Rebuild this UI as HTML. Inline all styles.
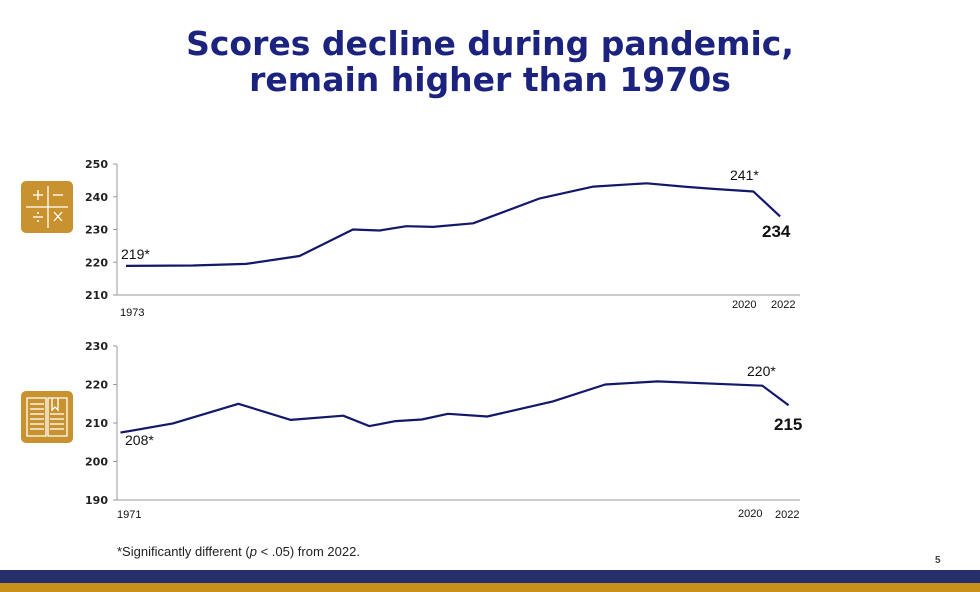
<!DOCTYPE html>
<html><head><meta charset="utf-8"><style>
body{margin:0;width:980px;height:592px;overflow:hidden;background:#fff;font-family:"Liberation Sans",sans-serif;position:relative}
.title{position:absolute;left:0;top:26px;width:980px;text-align:center;color:#1c237e;font-weight:bold;font-size:33px;line-height:36px;font-family:"DejaVu Sans",sans-serif}
svg{position:absolute;left:0;top:0}
.note{position:absolute;left:117px;top:544px;font-size:13px;color:#222}
.pg{position:absolute;left:935px;top:555px;font-size:10px;font-weight:bold;color:#444}
.b1{position:absolute;left:0;top:570px;width:980px;height:13px;background:#262e6c}
.b2{position:absolute;left:0;top:583px;width:980px;height:9px;background:#c8921a}
</style></head><body>
<div class="title">Scores decline during pandemic,<br>remain higher than 1970s</div>
<svg id="chart" width="980" height="592">
 <g>
  <rect x="21" y="181" width="52" height="52" rx="5" fill="#c8932e"/>
  <g stroke="#fff" stroke-width="1.3" fill="none">
   <line x1="48" y1="186" x2="48" y2="228"/><line x1="26" y1="207" x2="68" y2="207"/>
   <line x1="33" y1="195" x2="43" y2="195"/><line x1="38" y1="190" x2="38" y2="200"/>
   <line x1="53" y1="195" x2="63" y2="195"/>
   <line x1="33" y1="217" x2="43" y2="217"/><line x1="54" y1="212" x2="62" y2="221"/><line x1="62" y1="212" x2="54" y2="221"/>
  </g><circle cx="38" cy="213" r="1" fill="#fff"/><circle cx="38" cy="221" r="1" fill="#fff"/>
 </g>
 <g>
  <rect x="21" y="391" width="52" height="52" rx="5" fill="#c8932e"/>
  <g stroke="#fff" stroke-width="1.3" fill="none">
   <path d="M27 398 H46 V436 H27 Z M48 398 H67 V436 H48 Z"/>
   <path d="M52 398 V410 L55 407 L58 410 V398"/>
   <line x1="30" y1="404" x2="44" y2="404"/><line x1="30" y1="409" x2="44" y2="409"/><line x1="30" y1="414" x2="44" y2="414"/><line x1="30" y1="419" x2="44" y2="419"/><line x1="30" y1="424" x2="44" y2="424"/><line x1="30" y1="429" x2="44" y2="429"/>
   <line x1="50" y1="414" x2="64" y2="414"/><line x1="50" y1="419" x2="64" y2="419"/><line x1="50" y1="424" x2="64" y2="424"/><line x1="50" y1="429" x2="64" y2="429"/>
  </g>
 </g>
</svg>
<div class="note">*Significantly different (<i>p</i> &lt; .05) from 2022.</div>
<div class="pg">5</div>
<div class="b1"></div>
<div class="b2"></div>
<script>
const mathYears=[1973,1978,1982,1986,1990,1992,1994,1996,1999,2004,2008,2012,2015,2017,2020,2022];
const mathScores=[218.9,219,219.5,221.9,230,229.7,231,230.8,231.9,239.5,243.1,244.1,243,242.4,241.6,234];
const mathTicks=[210,220,230,240,250];
const readYears=[1971,1975,1980,1984,1988,1990,1992,1994,1996,1999,2004,2008,2012,2020,2022];
const readScores=[207.5,209.9,215,210.8,211.9,209.2,210.5,210.9,212.4,211.7,215.6,220,220.8,219.7,214.6];
const readTicks=[190,200,210,220,230];
const NS="http://www.w3.org/2000/svg";
const svg=document.getElementById('chart');
function el(t,a,txt){const e=document.createElementNS(NS,t);for(const k in a)e.setAttribute(k,a[k]);if(txt!==undefined)e.textContent=txt;svg.appendChild(e);return e;}
function draw(cfg){
 const xs=y=>cfg.x0+(y-cfg.y0yr)*cfg.xpy;
 const ys=v=>cfg.top+(cfg.vmax-v)*(cfg.bot-cfg.top)/(cfg.vmax-cfg.vmin);
 let a=el('line',{x1:117,y1:cfg.top,x2:117,y2:cfg.bot,stroke:'#999','stroke-width':1});
 
 a=el('line',{x1:117,y1:cfg.bot,x2:800,y2:cfg.bot,stroke:'#999','stroke-width':1});
 
 cfg.ticks.forEach(t=>{
  const y=ys(t);
  const l=el('line',{x1:113,y1:y,x2:117,y2:y,stroke:'#999'});
  
  const tx=el('text',{x:108,y:y+4,'text-anchor':'end','font-size':11,'font-weight':'bold',fill:'#222','font-family':'DejaVu Sans, sans-serif'},t);
  
 });
 const d=cfg.years.map((yr,i)=>(i?'L':'M')+xs(yr).toFixed(1)+' '+ys(cfg.vals[i]).toFixed(1)).join(' ');
 const p=el('path',{d:d,fill:'none',stroke:'#12186a','stroke-width':2.2,'stroke-linejoin':'round'});
 
 cfg.labels.forEach(L=>{
  const t=el('text',{x:L[0],y:L[1],'font-size':L[3]||12.5,'font-weight':L[4]?'bold':'normal',fill:'#111','font-family':'Liberation Sans, sans-serif'},L[2]);
  
 });
}
draw({name:'math',x0:126,y0yr:1973,xpy:13.35,top:164,bot:295,vmin:210,vmax:250,ticks:mathTicks,years:mathYears,vals:mathScores,
 labels:[[121,259,'219*',14],[730,180,'241*',14],[762,237,'234',17,1],[120,316,'1973',11],[732,308,'2020',11],[771,308,'2022',11]]});
draw({name:'reading',x0:120.5,y0yr:1971,xpy:13.1,top:346,bot:500,vmin:190,vmax:230,ticks:readTicks,years:readYears,vals:readScores,
 labels:[[125,445,'208*',14],[747,376,'220*',14],[774,430,'215',17,1],[117,518,'1971',11],[738,517,'2020',11],[775,518,'2022',11]]});
</script>
</body></html>
